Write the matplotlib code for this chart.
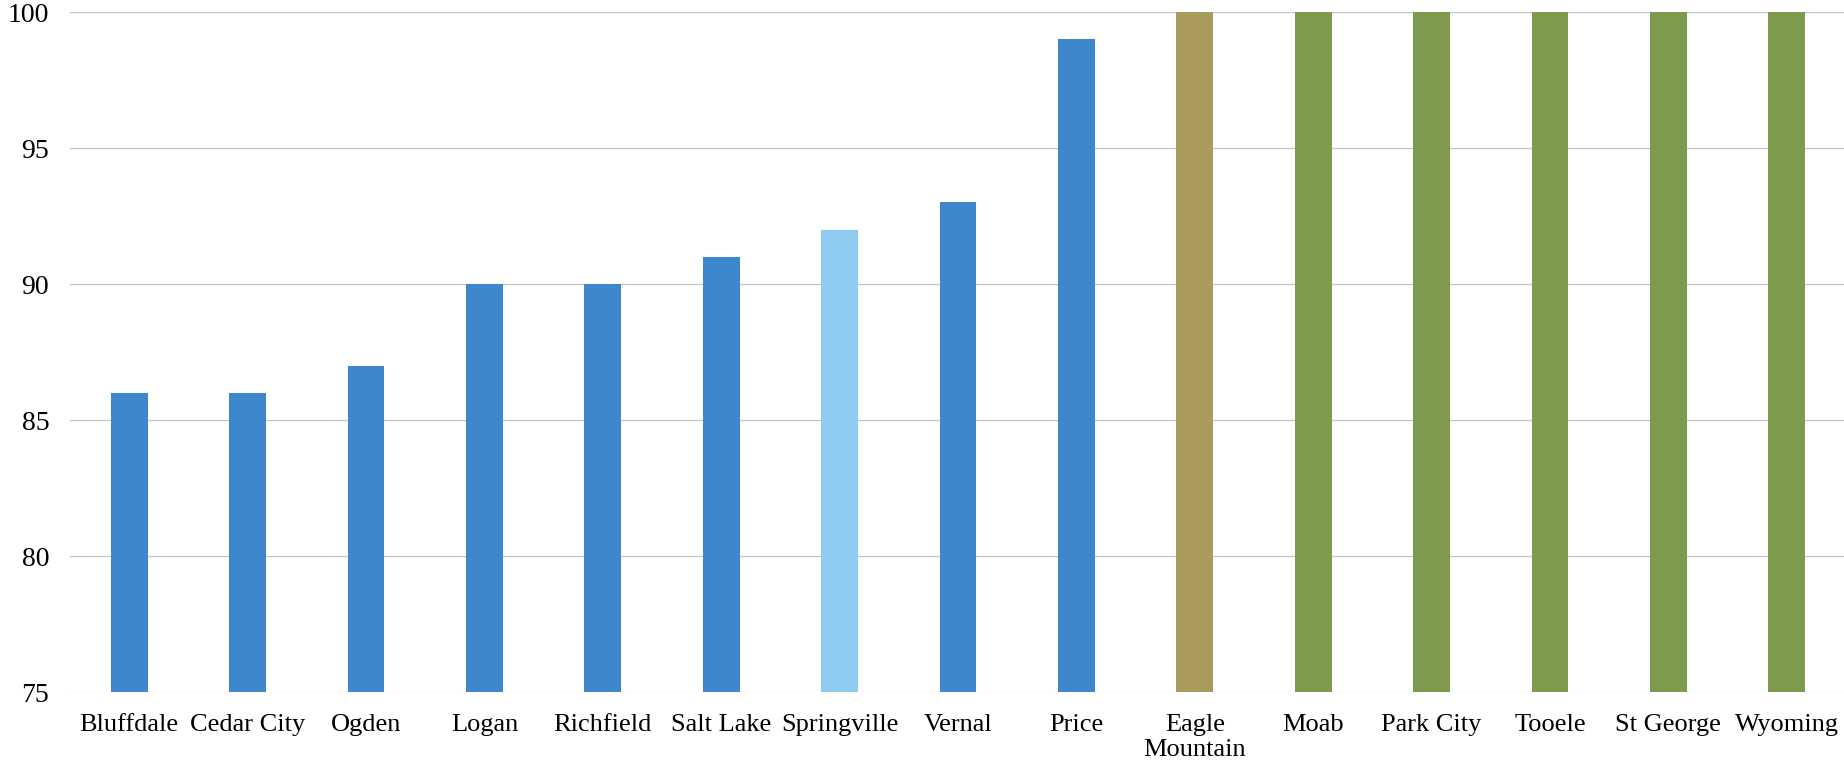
import matplotlib.pyplot as plt
import numpy as np

# data
cities = ['Bluffdale', 'Cedar City', 'Ogden', 'Logan', 'Richfield', 'Salt Lake',
          'Springville', 'Vernal', 'Price', 'Eagle\nMountain', 'Moab', 'Park City',
          'Tooele', 'St George', 'Wyoming']
scores = [86, 86, 87, 90, 90, 91, 92, 93, 99, 100, 100, 100, 100, 100, 100]
bar_colors = ['#3f87cc'] * 6 + ['#8fcaf0', '#3f87cc', '#3f87cc',
                                '#a99a5e'] + ['#7e9a4e'] * 5
y_ticks = [75, 80, 85, 90, 95, 100]

plt.rcParams['font.family'] = ['Liberation Serif', 'DejaVu Serif']

fig = plt.figure(figsize=(18.44, 7.68), dpi=100)
ax = fig.add_axes([70 / 1844, 76 / 768, 1776 / 1844, 680 / 768])

x = np.arange(len(cities))
ax.bar(x, np.array(scores) - 75, bottom=75, width=0.31, color=bar_colors, zorder=3)

ax.set_xlim(-0.5, len(cities) - 0.5)
ax.set_ylim(75, 100)
ax.set_yticks(y_ticks)
ax.set_xticks(x)
ax.set_xticklabels(cities, fontsize=19, linespacing=1.15)
ax.tick_params(axis='x', length=0, pad=16)
ax.tick_params(axis='y', length=0, pad=15, labelsize=20)

ax.grid(axis='y', color='#c4c4c4', linewidth=0.9, zorder=0)
for s in ax.spines.values():
    s.set_visible(False)

fig.savefig('out.png', dpi=100)
